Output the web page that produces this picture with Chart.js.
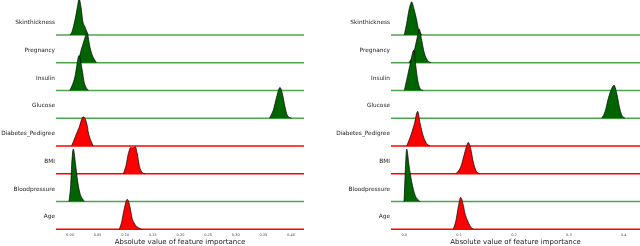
<!DOCTYPE html>
<html lang="en">
<head>
  <meta charset="utf-8" />
  <title>Feature importance ridgelines</title>
  <script src="https://cdn.jsdelivr.net/npm/chart.js@4.4.4/dist/chart.umd.min.js"></script>
  <style>
    body { margin: 0; background: #fff; }
    #container { display: flex; width: 640px; height: 246px; }
  </style>
</head>
<body>
  <div id="container">
    <canvas id="left" width="320" height="246"></canvas>
    <canvas id="right" width="320" height="246"></canvas>
  </div>

  <script>
    // rows from bottom to top
    const features = ['Age', 'Bloodpressure', 'BMI', 'Diabetes_Pedigree', 'Glucose', 'Insulin', 'Pregnancy', 'Skinthickness'];
    // +1 = green, -1 = red
    const effect = [-1, 1, -1, -1, 1, 1, 1, 1];

    // [importance, relative density]
    const leftAge = [[0.0892, 0], [0.0936, 0.27], [0.0977, 0.69], [0.1037, 1.08], [0.1086, 0.81], [0.1122, 0.42], [0.1158, 0.24], [0.1207, 0.1], [0.1298, 0]];
    const leftBloodpressure = [[-0.0018, 0], [0.0013, 0.6], [0.003, 1.31], [0.006, 1.89], [0.0103, 1.31], [0.014, 0.72], [0.018, 0.3], [0.026, 0]];
    const leftBMI = [[0.0965, 0], [0.1014, 0.3], [0.1055, 0.72], [0.110, 0.95], [0.114, 0.93], [0.118, 0.98], [0.1218, 0.72], [0.1254, 0.3], [0.130, 0.06], [0.1357, 0]];
    const leftDiabetes = [[0.003, 0], [0.009, 0.31], [0.0163, 0.66], [0.024, 1.05], [0.030, 0.84], [0.034, 0.42], [0.042, 0]];
    const leftGlucose = [[0.361, 0], [0.368, 0.3], [0.374, 0.77], [0.380, 1.11], [0.385, 0.83], [0.389, 0.42], [0.393, 0.12], [0.401, 0]];
    const leftInsulin = [[0.000, 0], [0.009, 0.5], [0.012, 0.86], [0.0163, 1.26], [0.022, 0.75], [0.026, 0.27], [0.033, 0]];
    const leftPregnancy = [[0.015, 0], [0.018, 0.29], [0.024, 0.7], [0.031, 1.06], [0.036, 0.58], [0.040, 0.29], [0.048, 0]];
    const leftSkinthickness = [[0.000, 0], [0.0036, 0.12], [0.009, 0.54], [0.014, 1.07], [0.0163, 1.32], [0.020, 1.0], [0.0235, 0.47], [0.027, 0.3], [0.033, 0]];

    const rightAge = [[0.0893, 0], [0.0943, 0.33], [0.0985, 0.81], [0.1028, 1.15], [0.1076, 0.87], [0.1107, 0.57], [0.1149, 0.33], [0.1198, 0.13], [0.1258, 0]];
    const rightBloodpressure = [[-0.0005, 0], [0.0013, 0.84], [0.0026, 1.43], [0.0044, 1.89], [0.0086, 1.31], [0.0135, 0.72], [0.0195, 0.24], [0.0286, 0]];
    const rightBMI = [[0.0943, 0], [0.1028, 0.24], [0.1088, 0.66], [0.1138, 1.01], [0.1167, 1.13], [0.1211, 0.9], [0.1258, 0.42], [0.1307, 0.12], [0.1367, 0]];
    const rightDiabetes = [[0.0044, 0], [0.0104, 0.3], [0.0182, 0.78], [0.0244, 1.25], [0.0286, 0.84], [0.0346, 0.36], [0.0408, 0.09], [0.0469, 0]];
    const rightGlucose = [[0.360, 0], [0.366, 0.24], [0.372, 0.72], [0.378, 1.07], [0.3823, 1.19], [0.3872, 0.9], [0.392, 0.42], [0.3963, 0.12], [0.4024, 0]];
    const rightInsulin = [[0.000, 0], [0.0044, 0.38], [0.0104, 0.92], [0.0177, 1.46], [0.0208, 0.92], [0.0244, 0.38], [0.0286, 0.08], [0.0346, 0]];
    const rightPregnancy = [[0.0086, 0], [0.0164, 0.29], [0.0226, 0.82], [0.0273, 1.21], [0.0317, 0.82], [0.0365, 0.35], [0.0427, 0.08], [0.0487, 0]];
    const rightSkinthickness = [[0.000, 0], [0.0044, 0.42], [0.0086, 0.9], [0.0135, 1.19], [0.0182, 0.9], [0.0226, 0.54], [0.0255, 0.24], [0.0317, 0]];

    const leftTickValues = [0, 0.05, 0.1, 0.15, 0.2, 0.25, 0.3, 0.35, 0.4];
    const leftTickLabels = ['0.00', '0.05', '0.10', '0.15', '0.20', '0.25', '0.30', '0.35', '0.40'];
    const rightTickValues = [0, 0.1, 0.2, 0.3, 0.4];
    const rightTickLabels = ['0.0', '0.1', '0.2', '0.3', '0.4'];

    const xTitle = 'Absolute value of feature importance';
    const font = 'DejaVu Sans';

    function buildChart(id, curves, xMin, xMax, tickValues, tickLabels, labelWidth, rightPad) {
      const datasets = [];
      features.forEach((name, k) => {
        const pos = effect[k] > 0;
        datasets.push({
          label: name,
          data: curves[k].map(p => ({ x: p[0], y: k + p[1] })),
          fill: { value: k },
          backgroundColor: pos ? '#006400' : '#ff0000',
          borderColor: 'rgba(0,0,0,0.85)',
          borderWidth: 0.8,
          pointRadius: 0,
          cubicInterpolationMode: 'monotone',
          order: k
        });
        datasets.push({
          label: name + ' base',
          data: [{ x: xMin, y: k }, { x: xMax, y: k }],
          borderColor: pos ? 'rgba(0,128,0,0.7)' : '#ff0000',
          borderWidth: 1.4,
          pointRadius: 0,
          fill: false,
          order: k + 0.5
        });
      });

      new Chart(document.getElementById(id), {
        type: 'line',
        data: { datasets: datasets },
        options: {
          responsive: false,
          animation: false,
          layout: { padding: { left: 0, right: rightPad, top: 0, bottom: 0 } },
          plugins: { legend: { display: false }, tooltip: { enabled: false } },
          scales: {
            x: {
              type: 'linear',
              min: xMin,
              max: xMax,
              grid: { display: false, drawTicks: false },
              border: { display: false },
              afterBuildTicks: s => { s.ticks = tickValues.map(v => ({ value: v })); },
              afterFit: s => { s.height = 14; s.paddingLeft = 0; s.paddingRight = 0; },
              ticks: {
                autoSkip: false,
                maxRotation: 0,
                padding: 1,
                color: '#444',
                font: { family: font, size: 3.5 },
                callback: (v, i) => tickLabels[i]
              },
              title: {
                display: true,
                text: xTitle,
                color: '#222',
                padding: 0,
                font: { family: font, size: 7 }
              }
            },
            y: {
              type: 'linear',
              min: -0.097,
              max: 8.26,
              grid: { display: false, drawTicks: false },
              border: { display: false },
              afterBuildTicks: s => { s.ticks = features.map((n, k) => ({ value: k + 0.45 })); },
              afterFit: s => { s.width = labelWidth; s.paddingTop = 0; s.paddingBottom = 0; },
              ticks: {
                autoSkip: false,
                padding: 1,
                color: '#222',
                font: { family: font, size: 5.8 },
                callback: (v, i) => features[i]
              }
            }
          }
        }
      });
    }

    buildChart('left',
      [leftAge, leftBloodpressure, leftBMI, leftDiabetes, leftGlucose, leftInsulin, leftPregnancy, leftSkinthickness],
      -0.0253, 0.4235, leftTickValues, leftTickLabels, 56, 16);
    buildChart('right',
      [rightAge, rightBloodpressure, rightBMI, rightDiabetes, rightGlucose, rightInsulin, rightPregnancy, rightSkinthickness],
      -0.0242, 0.4297, rightTickValues, rightTickLabels, 71, 0);
  </script>
</body>
</html>
